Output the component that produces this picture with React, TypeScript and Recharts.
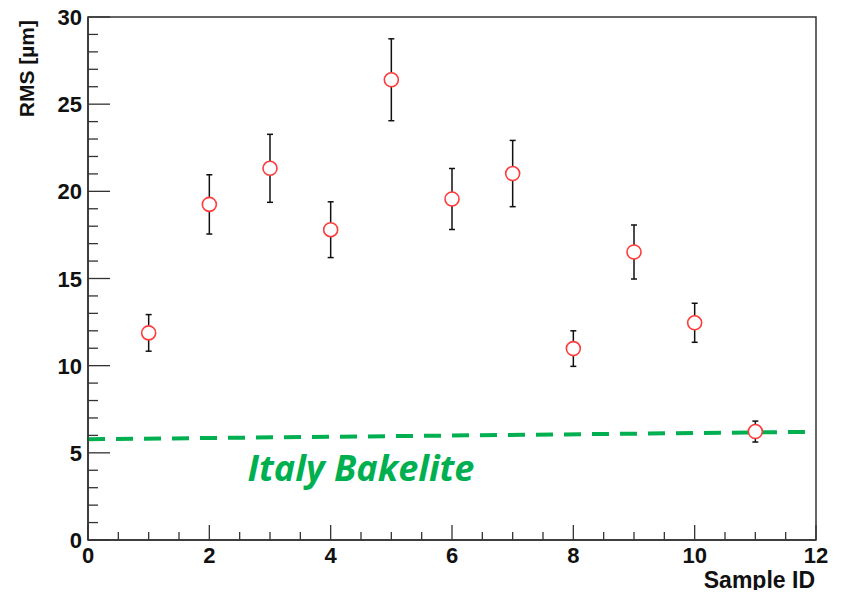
import React from 'react'
import { ComposedChart, Scatter, Line, XAxis, YAxis, ErrorBar, ReferenceArea, ReferenceDot } from 'recharts'

// RMS per sample
const sampleIds = [1, 2, 3, 4, 5, 6, 7, 8, 9, 10, 11]
const rmsValues = [11.88, 19.25, 21.32, 17.8, 26.4, 19.56, 21.02, 10.98, 16.52, 12.46, 6.22]
const rmsErrors = [1.05, 1.7, 1.95, 1.6, 2.35, 1.75, 1.9, 1.02, 1.55, 1.12, 0.6]

// Italy Bakelite reference level (slightly sloped dashed line)
const bakeliteX = [0, 11.85]
const bakeliteY = [5.78, 6.2]

const xTicks = [0, 0.5, 1, 1.5, 2, 2.5, 3, 3.5, 4, 4.5, 5, 5.5, 6, 6.5, 7, 7.5, 8, 8.5, 9, 9.5, 10, 10.5, 11, 11.5, 12]
const xMajor = [0, 2, 4, 6, 8, 10, 12]
const yTicks = [0, 1, 2, 3, 4, 5, 6, 7, 8, 9, 10, 11, 12, 13, 14, 15, 16, 17, 18, 19, 20, 21, 22, 23, 24, 25, 26, 27, 28, 29, 30]
const yMajor = [0, 5, 10, 15, 20, 25, 30]

const points = sampleIds.map((id, i) => ({ x: id, y: rmsValues[i], err: rmsErrors[i] }))
const bakelite = bakeliteX.map((x, i) => ({ x, y: bakeliteY[i] }))

const FONT = '"Liberation Sans", Arial, sans-serif'
const AXIS = '#333'

const XTick = (props: any) => {
  const { x, y, payload } = props
  const major = xMajor.includes(payload.value)
  return (
    <g>
      <line x1={x} y1={y} x2={x} y2={y - (major ? 15 : 8)} stroke={AXIS} strokeWidth={1.3} />
      {major && (
        <text x={x} y={y + 23} textAnchor="middle" fontFamily={FONT} fontWeight={700} fontSize={22} fill="#111">
          {payload.value}
        </text>
      )}
    </g>
  )
}

const YTick = (props: any) => {
  const { x, y, payload } = props
  const major = yMajor.includes(payload.value)
  return (
    <g>
      <line x1={x} y1={y} x2={x + (major ? 22 : 10)} y2={y} stroke={AXIS} strokeWidth={1.3} />
      {major && (
        <text x={x - 6} y={y + 8} textAnchor="end" fontFamily={FONT} fontWeight={700} fontSize={22} fill="#111">
          {payload.value}
        </text>
      )}
    </g>
  )
}

const Marker = (props: any) => {
  const { cx, cy } = props
  return <circle cx={cx} cy={cy} r={7} fill="#fff" stroke="#ff3b3b" strokeWidth={1.6} />
}

// ROOT-style titles: aligned to the far end of each axis
const YTitle = (props: any) => {
  const { viewBox } = props
  const tx = viewBox.x + 34
  const ty = viewBox.y + 3
  return (
    <text x={tx} y={ty} transform={`rotate(-90, ${tx}, ${ty})`} textAnchor="end" fontFamily={FONT} fontWeight={700} fontSize={21} fill="#111">
      RMS [µm]
    </text>
  )
}

const XTitle = (props: any) => {
  const { viewBox } = props
  return (
    <text x={viewBox.x + viewBox.width - 1} y={viewBox.y + 48} textAnchor="end" fontFamily={FONT} fontWeight={700} fontSize={23} fill="#111">
      Sample ID
    </text>
  )
}

export default function App() {
  return (
    <div style={{ margin: -8, width: 841, height: 598, background: '#fff', position: 'relative' }}>
      <ComposedChart width={841} height={598} margin={{ top: 17, right: 25, bottom: 0, left: 0 }}>
        <XAxis
          dataKey="x"
          type="number"
          domain={[0, 12]}
          ticks={xTicks}
          interval={0}
          height={58}
          tickSize={0}
          tickMargin={0}
          tick={<XTick />}
          axisLine={{ stroke: AXIS, strokeWidth: 1.5 }}
          label={<XTitle />}
        />
        <YAxis
          dataKey="y"
          type="number"
          domain={[0, 30]}
          ticks={yTicks}
          interval={0}
          width={88}
          tickSize={0}
          tickMargin={0}
          tick={<YTick />}
          axisLine={{ stroke: AXIS, strokeWidth: 1.5 }}
          label={<YTitle />}
        />
        <ReferenceArea x1={0} x2={12} y1={0} y2={30} fill="none" stroke={AXIS} strokeWidth={1.5} />
        <Line
          data={bakelite}
          dataKey="y"
          stroke="#00b050"
          strokeWidth={4}
          strokeDasharray="17 11"
          dot={false}
          isAnimationActive={false}
        />
        <Scatter data={points} dataKey="y" shape={<Marker />} isAnimationActive={false}>
          <ErrorBar dataKey="err" direction="y" width={3} stroke="#111" strokeWidth={1.5} />
        </Scatter>
        <ReferenceDot
          x={4.5}
          y={4.13}
          r={0}
          fill="none"
          stroke="none"
          label={{ value: 'Italy Bakelite', position: 'center', fill: '#00b050', fontSize: 36, fontWeight: 700, fontStyle: 'italic', fontFamily: '"Open Sans", sans-serif' }}
        />
      </ComposedChart>
    </div>
  )
}
